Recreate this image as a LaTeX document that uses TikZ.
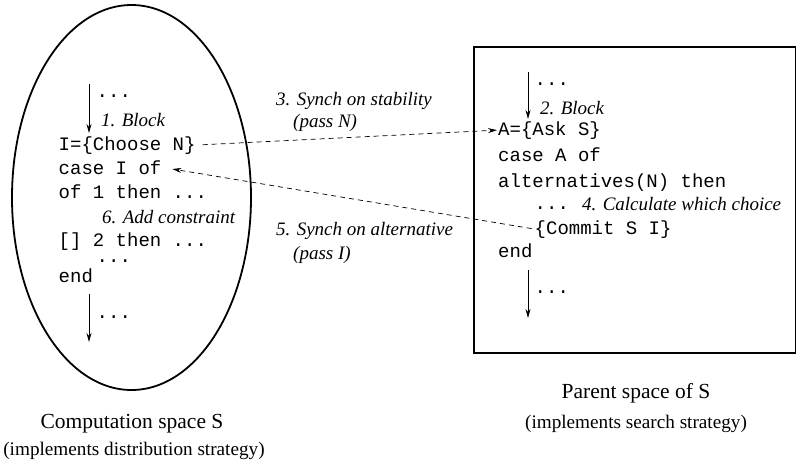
\documentclass[tikz,border=0pt]{standalone}
\usepackage{fontspec}
\setmainfont{Liberation Serif}
\setmonofont{Liberation Mono}
\usetikzlibrary{arrows.meta}
\begin{document}
\begin{tikzpicture}[x=1pt,y=-1pt,
  code/.style={anchor=base west, inner sep=0pt, font=\fontsize{19}{19}\ttfamily},
  lab/.style={anchor=base west, inner sep=0pt, font=\fontsize{19}{19}\selectfont\itshape},
  captext/.style={anchor=base, inner sep=0pt, font=\fontsize{21.5}{21.5}\selectfont},
  subcap/.style={anchor=base, inner sep=0pt, font=\fontsize{19.2}{19.2}\selectfont},
  flow/.style={-{Stealth[length=9pt,width=5pt]}, line width=0.8pt},
  msg/.style={-{Stealth[length=9pt,width=5pt]}, line width=0.7pt, dash pattern=on 5pt off 4pt},
  frame/.style={line width=1.8pt}]
\useasboundingbox (0,0) rectangle (797,464);
% computation space
\draw[frame] (131.5,197.5) ellipse [x radius=119.5pt, y radius=192.5pt];
\node[code] (ld1) at (96.5,97) {...};
\node[lab] (blk1) at (101,126) {1. Block};
\node[code] (choose) at (58.5,150) {I=\{Choose N\}};
\node[code] (casei) at (58.5,174) {case I of};
\node[code] (of1) at (58.5,198) {of 1 then ...};
\node[lab] (add) at (102,223) {6. Add constraint};
\node[code] (of2) at (58.5,246) {[] 2 then ...};
\node[code] (ld2) at (96.5,262) {...};
\node[code] (lend) at (58.5,282) {end};
\node[code] (ld3) at (96.5,318) {...};
\coordinate (la1) at (89,84);
\coordinate (la2) at (89,133);
\coordinate (lb1) at (89,294);
\coordinate (lb2) at (89,342);
\draw[flow] (la1) -- (la2);
\draw[flow] (lb1) -- (lb2);
\node[captext] (capl1) at (132,428) {Computation space S};
\node[subcap] (capl2) at (134,455) {(implements distribution strategy)};
% parent space
\draw[frame] (474,47) rectangle (795.5,353);
\node[code] (rd1) at (534.5,85) {...};
\node[lab] (blk2) at (540,114) {2. Block};
\node[code] (ask) at (498,135) {A=\{Ask S\}};
\node[code] (casea) at (498,161) {case A of};
\node[code] (alt) at (498,187) {alternatives(N) then};
\node[code] (rd2) at (534.5,209) {...};
\node[lab] (calc) at (582,210) {4. Calculate which choice};
\node[code] (commit) at (534.5,234) {\{Commit S I\}};
\node[code] (rend) at (498,257) {end};
\node[code] (rd3) at (534.5,293) {...};
\coordinate (ra1) at (528,72);
\coordinate (ra2) at (528,119);
\coordinate (rb1) at (528,270);
\coordinate (rb2) at (528,318);
\draw[flow] (ra1) -- (ra2);
\draw[flow] (rb1) -- (rb2);
\node[captext] (capr1) at (636,398) {Parent space of S};
\node[subcap] (capr2) at (636,428) {(implements search strategy)};
% messages
\node[lab] (syn1) at (276,105) {3. Synch on stability};
\node[lab] (pass1) at (293,127) {(pass N)};
\node[lab] (syn2) at (276,235) {5. Synch on alternative};
\node[lab] (pass2) at (293,259) {(pass I)};
\draw[msg, shorten <=7pt, shorten >=1pt] (choose.east) -- (ask.west);
\draw[msg, shorten <=3pt, shorten >=11pt] (commit.west) -- (casei.east);
\end{tikzpicture}
\end{document}
